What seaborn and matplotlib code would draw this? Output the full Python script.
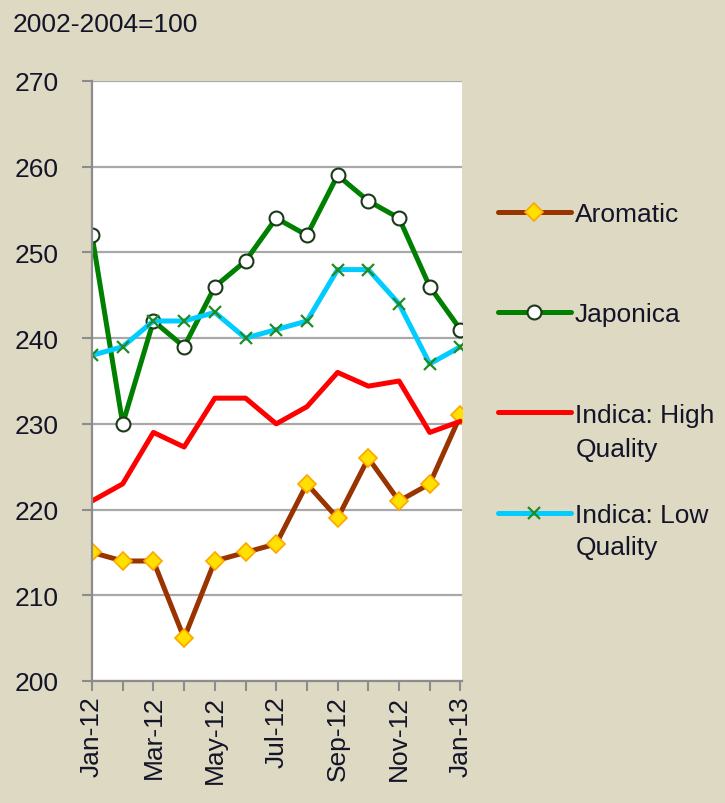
import pandas as pd
import numpy as np
import matplotlib
matplotlib.use("Agg")
import matplotlib.pyplot as plt
import seaborn as sns

# ------------------------------
# Data
# ------------------------------
months = ["Jan-12", "Feb-12", "Mar-12", "Apr-12", "May-12", "Jun-12", "Jul-12",
          "Aug-12", "Sep-12", "Oct-12", "Nov-12", "Dec-12", "Jan-13"]
aromatic = [215, 214, 214, 205, 214, 215, 216, 223, 219, 226, 221, 223, 231]
japonica = [252, 230, 242, 239, 246, 249, 254, 252, 259, 256, 254, 246, 241]
indica_high = [221, 223, 229, 227.3, 233, 233, 230, 232, 236, 234.4, 235, 229, 230.3]
indica_low = [238, 239, 242, 242, 243, 240, 241, 242, 248, 248, 244, 237, 239]
y_ticks = [200, 210, 220, 230, 240, 250, 260, 270]

# ------------------------------
# Style
# ------------------------------
bg = "#DDD9C3"
txt = "#141428"
sns.set_theme(style="white")
plt.rcParams["font.family"] = ["Liberation Sans", "DejaVu Sans"]

fig = plt.figure(figsize=(7.25, 8.04), dpi=100, facecolor=bg)
ax = fig.add_axes([92 / 725, 1 - 682 / 804, 370 / 725, 600 / 804])
ax.set_facecolor("white")

x = np.arange(len(months))
series = [
    ("Aromatic", aromatic, dict(color="#993300", marker="D", markersize=9,
                                markerfacecolor="#FFE000", markeredgecolor="#FFA500",
                                markeredgewidth=1.2)),
    ("Japonica", japonica, dict(color="#008000", marker="o", markersize=10,
                                markerfacecolor="white", markeredgecolor="#1a3a1a",
                                markeredgewidth=1.5)),
    ("Indica: High", indica_high, dict(color="#FF0000")),
    ("Indica: Low", indica_low, dict(color="#00CCFF", marker="x", markersize=9,
                                     markeredgecolor="#228B22", markeredgewidth=1.6)),
]
for name, vals, kw in series:
    sns.lineplot(x=x, y=vals, ax=ax, label=name, linewidth=3.6, **kw)

# ------------------------------
# Axes
# ------------------------------
ax.set_xlim(0, 12.05)
ax.set_ylim(200, 270)
ax.set_yticks(y_ticks)
ax.set_xticks(x[::2])
ax.set_xticklabels(months[::2], rotation=90)
ax.set_xticks(x[1::2], minor=True)
ax.yaxis.grid(True, color="#A8A8A8", linewidth=1.6)
ax.set_axisbelow(True)

for side in ["top", "right"]:
    ax.spines[side].set_visible(False)
for side in ["left", "bottom"]:
    ax.spines[side].set_color("#8C8C8C")
    ax.spines[side].set_linewidth(1.6)

ax.tick_params(axis="y", which="major", direction="out", length=7, width=1.5,
               color="#8C8C8C", pad=17, labelsize=19, labelcolor=txt, left=True)
ax.tick_params(axis="x", which="both", direction="out", length=7, width=1.5,
               color="#8C8C8C", pad=3, labelsize=19, labelcolor=txt, bottom=True)

fig.text(13 / 725, 1 - 25 / 804, "2002-2004=100", fontsize=19, color=txt, va="center")

# legend: first lines via legend, second lines as plain text (Excel-style)
ax.get_legend().remove()
handles, labels = ax.get_legend_handles_labels()
fig.legend(handles, labels, loc="upper left", bbox_to_anchor=(498 / 725, 1 - 203 / 804),
           frameon=False, fontsize=19, labelcolor=txt, handlelength=2.75,
           handletextpad=0.15, borderpad=0, borderaxespad=0, labelspacing=2.89)
for yy in [450, 548]:
    fig.text(576 / 725, 1 - yy / 804, "Quality", fontsize=19, color=txt, va="center")

fig.savefig("out.png", dpi=100, facecolor=bg)
